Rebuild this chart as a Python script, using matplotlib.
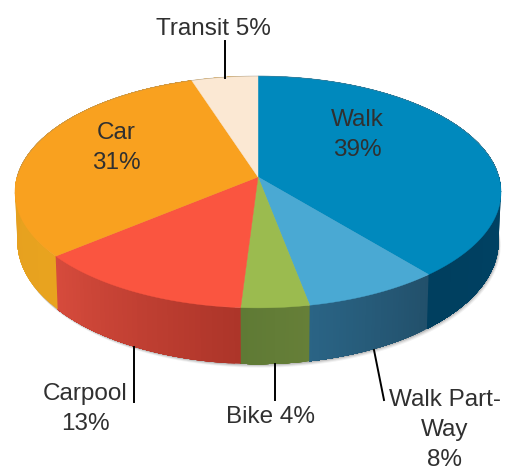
import numpy as np
import matplotlib
matplotlib.use("Agg")
import matplotlib.pyplot as plt

plt.rcParams['font.family'] = ['Liberation Sans', 'DejaVu Sans']

# parts clockwise from 12 o'clock
categories = ["Walk", "Walk Part-Way", "Bike", "Carpool", "Car", "Transit"]
shares = [39, 8, 4, 13, 31, 5]

top_colors = ["#0089bd", "#4aa9d3", "#9bbb4f", "#fa5540", "#f9a11f", "#fbe8d3"]
# wall colour at start and end of each part
wall_from = ["#004a70", "#22506b", "#667f38", "#ad3529", "#e8a31f", "#e8a31f"]
wall_to = ["#003f5f", "#2a6485", "#5f7a35", "#d64b3c", "#e09a20", "#e09a20"]

# perspective of the disc, in pixels
cx, cy = 258, 177
rx, ry = 241, 114
k = 0.129
depth = 49


def project(t):
    u, v = np.sin(t), np.cos(t)
    w = 1 + k * v
    return cx + rx * u / w, cy - ry * v / w, depth / w


def rgb(c):
    return np.array(matplotlib.colors.to_rgb(c))


fig = plt.figure(figsize=(5.06, 4.72), dpi=100)
ax = fig.add_axes([0, 0, 1, 1])
ax.set_xlim(0, 506)
ax.set_ylim(472, 0)
ax.axis('off')

edges = np.cumsum([0] + shares) / sum(shares) * 2 * np.pi

# soft shadow below the wall
t_all = np.linspace(0, 2 * np.pi, 361)
xa, ya, da = project(t_all)
for off, alpha in [(3.5, 0.08), (2.5, 0.12), (1.5, 0.2)]:
    ax.fill(cx + (xa - cx) * 0.99 + 0.6 * off, ya + da + off, color='#555555', alpha=alpha, lw=0)

# wall, small strips with shading
# every strip runs on to the end of its part, the next one paints over it (no seams)
for i in range(len(shares)):
    ts = np.linspace(edges[i], edges[i + 1], 40)
    c0, c1 = rgb(wall_from[i]), rgb(wall_to[i])
    for j in range(len(ts) - 1):
        f = j / (len(ts) - 2)
        x, y, d = project(ts[j:])
        xb = cx + (x - cx) * 0.99
        ax.fill(np.r_[x, xb[::-1]], np.r_[y, (y + d)[::-1]], color=c0 + (c1 - c0) * f, lw=0)

# top of the pie
for i in range(len(shares)):
    ts = np.linspace(edges[i], edges[i + 1], 100)
    x, y, d = project(ts)
    ax.fill(np.r_[cx, x], np.r_[cy, y], color=top_colors[i], lw=0.3)

# rim at the back
t_back = np.linspace(-np.pi / 2, np.pi / 2, 100)
xb, yb, db = project(t_back)
ax.plot(xb, yb, color='#8a8a8a', lw=0.5, alpha=0.45)

# leader lines
ax.plot([225, 225], [41, 78], color='black', lw=1.4)
ax.plot([134, 134], [347, 402], color='black', lw=1.4)
ax.plot([275, 275], [364, 400], color='black', lw=1.4)
ax.plot([374, 384], [350, 400], color='black', lw=1.4)

# labels
txt = dict(fontsize=17.5, color='#303030', ha='center', va='center', linespacing=1.5)
ax.text(357, 135, "Walk\n39%", **txt)
ax.text(116, 148, "Car\n31%", **txt)
ax.text(213, 29, "Transit 5%", **txt)
ax.text(85, 409, "Carpool\n13%", **txt)
ax.text(271, 417, "Bike 4%", **txt)
ax.text(445, 430, "Walk Part-\nWay\n8%", **txt)

plt.savefig('out.png', dpi=100)
plt.close()
